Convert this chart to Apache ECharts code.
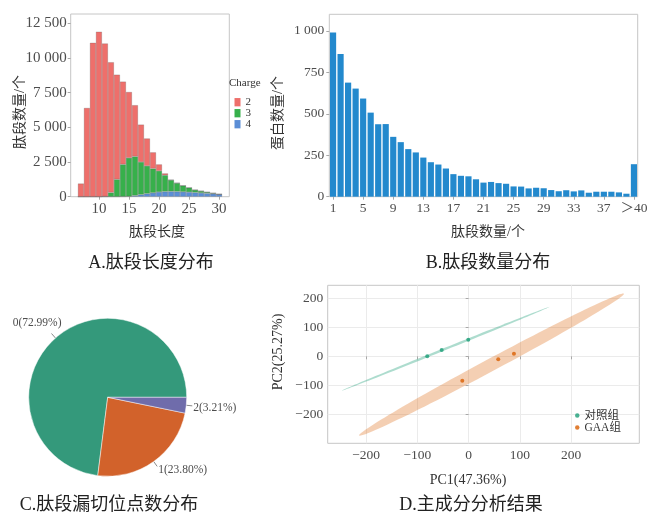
<!DOCTYPE html>
<html><head><meta charset="utf-8">
<script src="https://cdn.jsdelivr.net/npm/echarts@6/dist/echarts.min.js"></script>
<style>html,body{margin:0;padding:0;background:#fff}#c{width:648px;height:513px}</style>
</head><body><div id="c"></div>
<script>
// ---------- Panel A: peptide length distribution by charge ----------
const peptideLengths = [7,8,9,10,11,12,13,14,15,16,17,18,19,20,21,22,23,24,25,26,27,28,29,30];
const charge2 = [950,6400,11100,11900,11030,9400,7550,5970,4750,3700,2700,1980,1170,470,130,20,20,0,0,0,0,0,0,0];
const charge3 = [0,0,0,0,20,300,1250,2320,2780,2820,2350,2000,1750,1520,1180,820,610,450,320,190,140,90,50,10];
const charge4 = [0,0,0,0,0,0,0,10,20,80,150,220,280,340,370,380,370,350,330,300,270,240,210,170];
const lengthTicks = [10,15,20,25,30];
const peptideCountTicks = [0,2500,5000,7500,10000,12500];

// ---------- Panel B: peptides per protein ----------
const peptidesPerProtein = ['1','2','3','4','5','6','7','8','9','10','11','12','13','14','15','16','17','18','19','20',
  '21','22','23','24','25','26','27','28','29','30','31','32','33','34','35','36','37','38','39','40','＞40'];
const proteinCounts = [990,860,688,652,592,507,437,438,361,329,287,267,236,208,194,170,136,126,123,105,
  85,89,82,78,62,61,50,54,51,40,33,39,32,38,24,30,30,30,26,18,196];
const proteinCountTicks = [0,250,500,750,1000];

// ---------- Panel C: missed cleavage sites ----------
const missedCleavageNames = ['0','1','2'];
const missedCleavagePct = [72.99, 23.80, 3.21];

// ---------- Panel D: PCA ----------
const ctrlPC1 = [-80.7, -52.6, -0.7];
const ctrlPC2 = [0, 21.7, 57.3];
const gaaPC1 = [-12.4, 57.8, 88.4];
const gaaPC2 = [-84, -10.5, 9];
const pcTicks = [-200,-100,0,100,200];

const SERIF = "'Liberation Serif','Noto Sans CJK SC'";
const TICK_COLOR = '#4d4d4d';
const BORDER = '#c6c6c6';

function thousands(v){ return String(v).replace(/\B(?=(\d{3})+(?!\d))/g,' '); }
function signed(v){ return v < 0 ? '\u2212' + (-v) : String(v); }

// confidence ellipse computed from group covariance (like stat_ellipse)
const ELLIPSE_SCALE = 5.0;
function ellipse(xs, ys, n){
  const k = xs.length;
  const mx = xs.reduce((a,b)=>a+b,0)/k, my = ys.reduce((a,b)=>a+b,0)/k;
  let sxx=0, syy=0, sxy=0;
  for(let i=0;i<k;i++){ const dx=xs[i]-mx, dy=ys[i]-my; sxx+=dx*dx; syy+=dy*dy; sxy+=dx*dy; }
  sxx/=(k-1); syy/=(k-1); sxy/=(k-1);
  const tr=sxx+syy, det=sxx*syy-sxy*sxy;
  const disc=Math.sqrt(Math.max(tr*tr/4-det,0));
  const l1=tr/2+disc, l2=Math.max(tr/2-disc,0);
  const ang=0.5*Math.atan2(2*sxy, sxx-syy);
  const c=Math.cos(ang), s=Math.sin(ang);
  const a=ELLIPSE_SCALE*Math.sqrt(l1), b=ELLIPSE_SCALE*Math.sqrt(l2);
  const pts=[];
  for(let i=0;i<n;i++){
    const t=2*Math.PI*i/n;
    const u=a*Math.cos(t), w=b*Math.sin(t);
    pts.push([mx+u*c-w*s, my+u*s+w*c]);
  }
  return {center:[mx,my], pts};
}
const ctrlEll = ellipse(ctrlPC1, ctrlPC2, 120);
const gaaEll = ellipse(gaaPC1, gaaPC2, 120);

function ellSeries(name, ell, fill){
  return {
    name, type:'custom', coordinateSystem:'cartesian2d', xAxisIndex:2, yAxisIndex:2,
    silent:true, clip:true, z:1,
    data:[ell.center],
    renderItem:(params, api)=>({
      type:'polygon',
      shape:{points: ell.pts.map(p=>api.coord(p))},
      style:{fill: fill, stroke:'none'}
    })
  };
}

// stacked histogram series: count in dim 0 (stacked), length in dim 1
function chargeSeries(name, values, color){
  return {
    name, type:'bar', xAxisIndex:0, yAxisIndex:0, stack:'len', barWidth:6,
    dimensions:['count','length'], encode:{x:1, y:0},
    data:peptideLengths.map((x,i)=>[values[i], x]),
    itemStyle:{color:color, borderColor:'rgba(80,80,80,0.45)', borderWidth:0.5}
  };
}

const axisTickStyle = {show:true, length:3, lineStyle:{color:'#a8a8a8', width:1}};
const pieLabelShift = [[0,-11],[0,4],[0,2]];

const chart = echarts.init(document.getElementById('c'), null, {renderer:'canvas'});
chart.setOption({
  animation:false,
  backgroundColor:'#fff',
  textStyle:{fontFamily:SERIF},
  grid:[
    {left:70.7, top:14, width:158.6, height:182.7, show:true, borderColor:BORDER, borderWidth:1, backgroundColor:'transparent', outerBoundsMode:'none'},
    {left:329.3, top:14.3, width:308.4, height:182.4, show:true, borderColor:BORDER, borderWidth:1, backgroundColor:'transparent', outerBoundsMode:'none'},
    {left:327.7, top:285.3, width:311.6, height:158, show:true, borderColor:BORDER, borderWidth:1, backgroundColor:'transparent', outerBoundsMode:'none'}
  ],
  xAxis:[
    {gridIndex:0, type:'value', min:5.3, max:31.7,
     axisLine:{show:false}, splitLine:{show:false},
     axisTick:Object.assign({customValues:lengthTicks}, axisTickStyle),
     axisLabel:{customValues:lengthTicks, margin:5, fontSize:15, color:TICK_COLOR, fontFamily:SERIF}},
    {gridIndex:1, type:'category', data:peptidesPerProtein,
     axisLine:{show:false}, splitLine:{show:false},
     axisTick:Object.assign({interval:3, alignWithLabel:true}, axisTickStyle),
     axisLabel:{interval:3, margin:5, fontSize:13.5, color:TICK_COLOR, fontFamily:SERIF}},
    {gridIndex:2, type:'value', min:-275, max:333,
     axisLine:{show:false},
     splitLine:{show:true, lineStyle:{color:'#ebebeb', width:1}},
     axisTick:Object.assign({customValues:pcTicks}, axisTickStyle),
     axisLabel:{customValues:pcTicks, formatter:signed, margin:5, fontSize:13.5, color:TICK_COLOR, fontFamily:SERIF}}
  ],
  yAxis:[
    {gridIndex:0, type:'value', min:0, max:13175,
     axisLine:{show:false}, splitLine:{show:false},
     axisTick:Object.assign({customValues:peptideCountTicks}, axisTickStyle),
     axisLabel:{customValues:peptideCountTicks, formatter:thousands, margin:4, fontSize:15, color:TICK_COLOR, fontFamily:SERIF}},
    {gridIndex:1, type:'value', min:0, max:1100,
     axisLine:{show:false}, splitLine:{show:false},
     axisTick:Object.assign({customValues:proteinCountTicks}, axisTickStyle),
     axisLabel:{customValues:proteinCountTicks, formatter:thousands, margin:5, fontSize:13.5, color:TICK_COLOR, fontFamily:SERIF}},
    {gridIndex:2, type:'value', min:-300, max:245,
     axisLine:{show:false},
     splitLine:{show:true, lineStyle:{color:'#ebebeb', width:1}},
     axisTick:Object.assign({customValues:pcTicks}, axisTickStyle),
     axisLabel:{customValues:pcTicks, formatter:signed, margin:4.5, fontSize:13.5, color:TICK_COLOR, fontFamily:SERIF}}
  ],
  legend:[
    {data:['2','3','4'], orient:'vertical', left:234.5, top:96.7, itemWidth:6, itemHeight:8.3, itemGap:0,
     icon:'rect', padding:0, itemStyle:{borderWidth:0},
     textStyle:{fontSize:11, color:'#333', fontFamily:SERIF, lineHeight:8.3}},
    {data:['对照组','GAA组'], orient:'vertical', left:575, top:409.5, itemWidth:4.5, itemHeight:4.5, itemGap:0,
     icon:'circle', padding:0,
     textStyle:{fontSize:11.5, color:'#333', fontFamily:SERIF, lineHeight:12}}
  ],
  series:[
    chargeSeries('4', charge4, '#5B8ED6'),
    chargeSeries('3', charge3, '#37B04B'),
    chargeSeries('2', charge2, '#EE6F6B'),
    {name:'蛋白数量', type:'bar', xAxisIndex:1, yAxisIndex:1, barCategoryGap:'18%',
     data:proteinCounts,
     itemStyle:{color:'#2389CD'}},
    {name:'漏切位点', type:'pie', center:[107.7,397.3], radius:79, startAngle:0, clockwise:false,
     avoidLabelOverlap:false,
     data:[
       {name:missedCleavageNames[0], value:missedCleavagePct[0], label:{distanceToLabelLine:-10}},
       {name:missedCleavageNames[1], value:missedCleavagePct[1], label:{distanceToLabelLine:1}},
       {name:missedCleavageNames[2], value:missedCleavagePct[2], label:{distanceToLabelLine:1}}
     ],
     color:['#34997B','#D2622B','#6F6CAB'],
     itemStyle:{borderColor:'rgba(255,255,255,0.8)', borderWidth:0.6},
     label:{show:true, position:'outside', fontSize:11.5, color:TICK_COLOR, fontFamily:SERIF,
       formatter:p=>p.name+'('+p.value.toFixed(2)+'%)'},
     labelLine:{show:true, length:6, length2:0, lineStyle:{color:'#555', width:0.7}},
     labelLayout:p=>({dx:pieLabelShift[p.dataIndex][0], dy:pieLabelShift[p.dataIndex][1]}),
     emphasis:{disabled:true}},
    ellSeries('对照组椭圆', ctrlEll, 'rgba(27,158,119,0.36)'),
    ellSeries('GAA组椭圆', gaaEll, 'rgba(217,95,2,0.30)'),
    {name:'对照组', type:'scatter', xAxisIndex:2, yAxisIndex:2, symbolSize:4, z:3,
     data:ctrlPC1.map((x,i)=>[x,ctrlPC2[i]]), itemStyle:{color:'#1B9E77'}},
    {name:'GAA组', type:'scatter', xAxisIndex:2, yAxisIndex:2, symbolSize:4, z:3,
     data:gaaPC1.map((x,i)=>[x,gaaPC2[i]]), itemStyle:{color:'#D95F02'}}
  ],
  graphic:[
    {type:'text', x:229, y:83, style:{text:'Charge', font:"11px "+SERIF, fill:'#333', align:'left', verticalAlign:'middle'}},
    {type:'text', x:157, y:232, style:{text:'肽段长度', font:"14px "+SERIF, fill:'#333', align:'center', verticalAlign:'middle'}},
    {type:'text', x:20, y:112, rotation:Math.PI/2, style:{text:'肽段数量/个', font:"14px "+SERIF, fill:'#333', align:'center', verticalAlign:'middle'}},
    {type:'text', x:488, y:232, style:{text:'肽段数量/个', font:"14px "+SERIF, fill:'#333', align:'center', verticalAlign:'middle'}},
    {type:'text', x:278, y:113, rotation:Math.PI/2, style:{text:'蛋白数量/个', font:"14px "+SERIF, fill:'#333', align:'center', verticalAlign:'middle'}},
    {type:'text', x:468, y:480, style:{text:'PC1(47.36%)', font:"14px "+SERIF, fill:'#333', align:'center', verticalAlign:'middle'}},
    {type:'text', x:278, y:352, rotation:Math.PI/2, style:{text:'PC2(25.27%)', font:"14px "+SERIF, fill:'#333', align:'center', verticalAlign:'middle'}},
    {type:'text', x:151, y:263, style:{text:'A.肽段长度分布', font:"18px "+SERIF, fill:'#222', align:'center', verticalAlign:'middle'}},
    {type:'text', x:488, y:263, style:{text:'B.肽段数量分布', font:"18px "+SERIF, fill:'#222', align:'center', verticalAlign:'middle'}},
    {type:'text', x:109, y:505, style:{text:'C.肽段漏切位点数分布', font:"18px "+SERIF, fill:'#222', align:'center', verticalAlign:'middle'}},
    {type:'text', x:471, y:505, style:{text:'D.主成分分析结果', font:"18px "+SERIF, fill:'#222', align:'center', verticalAlign:'middle'}}
  ]
});
</script></body></html>
